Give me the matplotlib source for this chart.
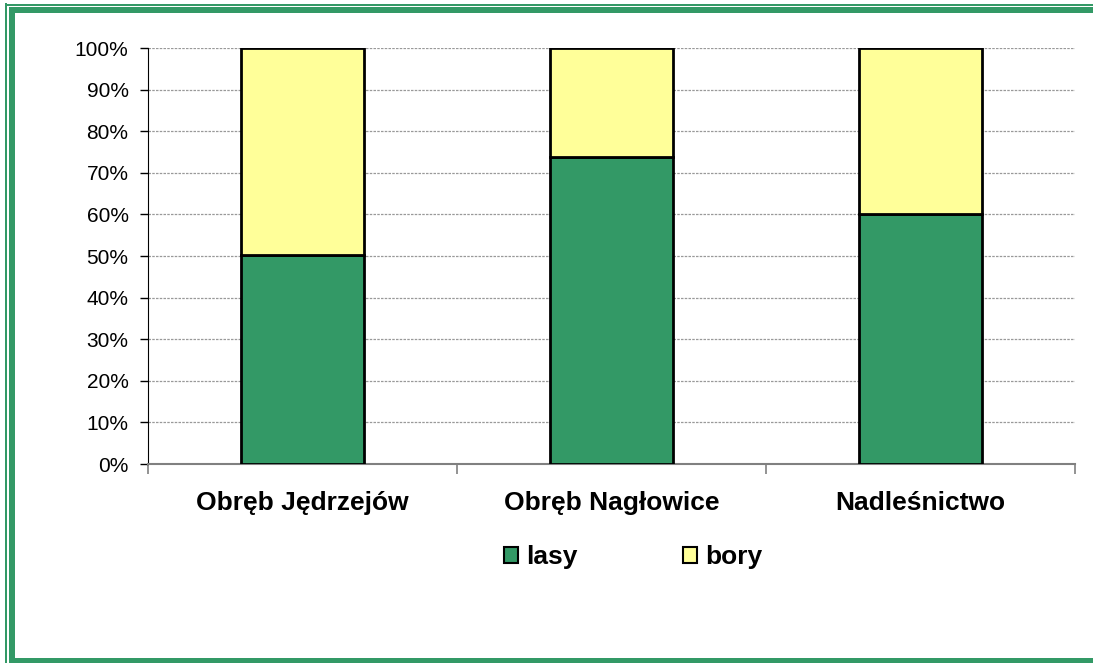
import numpy as np
import matplotlib.pyplot as plt
from matplotlib.patches import Rectangle, Patch

plt.rcParams['font.family'] = ['Liberation Sans', 'DejaVu Sans']

categories = ["Obręb Jędrzejów", "Obręb Nagłowice", "Nadleśnictwo"]
lasy = [50.2, 73.8, 60.1]
bory = [49.8, 26.2, 39.9]

GREEN = "#339966"
YELLOW = "#FFFF99"

W, H = 1093, 663
fig = plt.figure(figsize=(W / 100, H / 100), dpi=100)
ax = fig.add_axes([148 / W, 1 - 464 / H, (1075 - 148) / W, (464 - 48) / H])

x = np.arange(len(categories))
ax.bar(x, lasy, width=0.40, color=GREEN, edgecolor="black", linewidth=2, zorder=3)
ax.bar(x, bory, width=0.40, bottom=lasy, color=YELLOW, edgecolor="black",
       linewidth=2, zorder=3)

ax.set_xlim(-0.5, 2.5)
ax.set_ylim(0, 100)
ax.set_yticks(np.arange(0, 101, 10))
ax.set_yticklabels([f"{v}%" for v in range(0, 101, 10)], fontsize=15)
ax.yaxis.grid(True, color="#999999", linestyle=(0, (2, 1)), linewidth=0.9, zorder=0)

# category labels, ticks between categories
ax.set_xticks([-0.5, 0.5, 1.5, 2.5])
ax.set_xticklabels([])
ax.tick_params(axis="x", length=7, color="#808080", width=1.2)
ax.tick_params(axis="y", length=6, width=1, color="black", pad=8)
for xi, name in zip(x, categories):
    ax.text(xi, -9.4, name, ha="center", va="center", fontsize=19,
            fontweight="bold", transform=ax.transData)

for s in ["top", "right"]:
    ax.spines[s].set_visible(False)
ax.spines["left"].set_color("black")
ax.spines["bottom"].set_color("#808080")
ax.spines["bottom"].set_linewidth(1.5)

handles = [Patch(facecolor=GREEN, edgecolor="black", linewidth=1.5, label="lasy"),
           Patch(facecolor=YELLOW, edgecolor="black", linewidth=1.5, label="bory")]
fig.legend(handles=handles, loc="center", bbox_to_anchor=(633 / W, 1 - 557 / H),
           ncol=2, frameon=False, handlelength=0.55, handleheight=0.55,
           handletextpad=0.3, columnspacing=4.0,
           prop={"size": 19, "weight": "bold"})

# green frame: thin outer line + thick inner line, white gap between
frame = [
    (5, 3, 1.6, H),      # thin left
    (5, 4, W, 1.6),      # thin top
    (8.5, 7, 6, H),      # thick left
    (8.5, 7, W, 5.5),    # thick top
    (8.5, H - 5.5, W, 5.5),  # thick bottom
]
for fx, fy, fw, fh in frame:
    fig.patches.append(Rectangle((fx / W, 1 - (fy + fh) / H), fw / W, fh / H,
                                 transform=fig.transFigure, color=GREEN, lw=0))

fig.savefig("out.png", dpi=100)
